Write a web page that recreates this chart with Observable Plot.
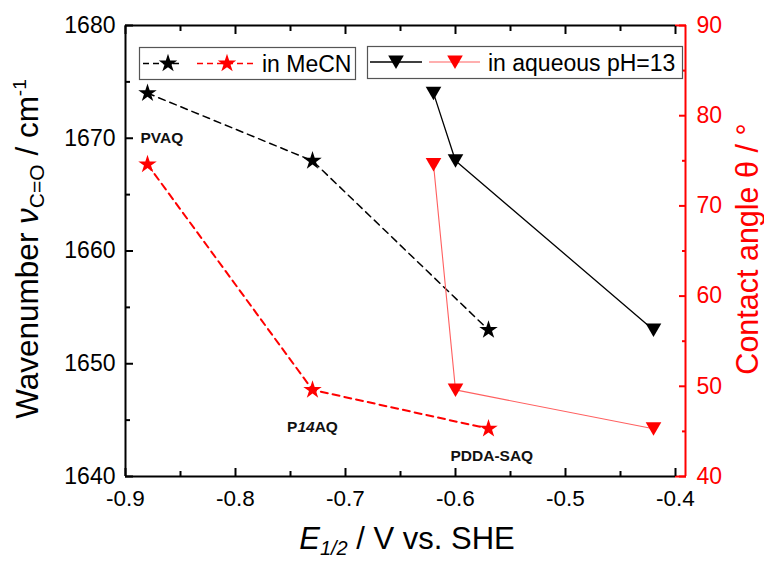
<!DOCTYPE html>
<html><head><meta charset="utf-8">
<script src="https://cdn.jsdelivr.net/npm/d3@7"></script>
<script src="https://cdn.jsdelivr.net/npm/@observablehq/plot@0.6"></script>
<style>
html,body{margin:0;padding:0;background:#fff;}
#chart{width:764px;height:561px;}
</style></head><body><div id="chart"></div>
<script>
// ---- data ----
const potMeCN = [-0.88, -0.73, -0.57];
const wnMeCN = [1674, 1668, 1653];
const caMeCN = [74.6, 49.6, 45.3];
const potAq = [-0.62, -0.60, -0.42];
const wnAq = [1674, 1668, 1653];
const caAq = [74.6, 49.6, 45.3];
const polymers = ["PVAQ", "P14AQ", "PDDA-SAQ"];
const labelPot = [-0.867, -0.73, -0.567];
const labelWn = [1670, 1644.4, 1641.8];
const xTicks = [-0.9, -0.8, -0.7, -0.6, -0.5, -0.4];
const xMinor = [-0.85, -0.75, -0.65, -0.55, -0.45];
const wnTicks = [1640, 1650, 1660, 1670, 1680];
const wnMinor = [1645, 1655, 1665, 1675];
const caTicks = [40, 50, 60, 70, 80, 90];
const caMinor = [45, 55, 65, 75, 85];

const ca2wn = d3.scaleLinear([40, 90], [1640, 1680]);
const mecn = potMeCN.map((E, i) => ({E, wn: wnMeCN[i], ca: ca2wn(caMeCN[i])}));
const aq = potAq.map((E, i) => ({E, wn: wnAq[i], ca: ca2wn(caAq[i])}));
const labels = polymers.map((t, i) => ({t, E: labelPot[i], wn: labelWn[i]}));

const FONT = "'Liberation Sans', Arial, sans-serif";
const RED = "#ff0000";
const PINK = "#ff6060";
const SR = 5.8, TR = 5.8;

const chart = Plot.plot({
  width: 764, height: 561,
  marginLeft: 125, marginRight: 89, marginTop: 25, marginBottom: 85,
  x: {domain: [-0.9, -0.4]},
  y: {domain: [1640, 1680]},
  style: {fontFamily: FONT, background: "white", overflow: "visible"},
  marks: [
    Plot.ruleX([-0.9], {stroke: "black", strokeWidth: 2}),
    Plot.ruleY([1640, 1680], {stroke: "black", strokeWidth: 2}),
    Plot.ruleX([-0.4], {stroke: RED, strokeWidth: 2, dx: 10}),
    Plot.ruleY([1640, 1680], {x1: -0.4, x2: -0.4, insetRight: -11, stroke: RED, strokeWidth: 2}),
    Plot.axisX({ticks: xTicks, anchor: "bottom", tickSize: -8, tickPadding: 22, strokeWidth: 2, fontSize: 22.5, fill: "black", tickFormat: d => d.toFixed(1), label: null}),
    Plot.axisX({ticks: xMinor, anchor: "bottom", tickSize: -5, strokeWidth: 2, tickFormat: () => "", label: null}),
    Plot.axisX({ticks: xTicks, anchor: "top", tickSize: -8, strokeWidth: 2, tickFormat: () => "", label: null}),
    Plot.axisX({ticks: xMinor, anchor: "top", tickSize: -5, strokeWidth: 2, tickFormat: () => "", label: null}),
    Plot.axisY({ticks: wnTicks, anchor: "left", tickSize: -8, tickPadding: 18, strokeWidth: 2, fontSize: 23, fill: "black", tickFormat: d => String(d), label: null}),
    Plot.axisY({ticks: wnMinor, anchor: "left", tickSize: -5, strokeWidth: 2, tickFormat: () => "", label: null}),
    Plot.axisY({ticks: caTicks.map(c => ca2wn(c)), anchor: "right", dx: 10, tickSize: -7, tickPadding: 18, strokeWidth: 2, fontSize: 23, color: RED, tickFormat: d => String(Math.round(ca2wn.invert(d))), label: null}),
    Plot.axisY({ticks: caMinor.map(c => ca2wn(c)), anchor: "right", dx: 10, tickSize: -4, strokeWidth: 2, color: RED, tickFormat: () => "", label: null}),
    // lines
    Plot.line(mecn, {x: "E", y: "wn", stroke: "black", strokeWidth: 1.5, strokeDasharray: "7,5"}),
    Plot.line(mecn, {x: "E", y: "ca", stroke: RED, strokeWidth: 2, strokeDasharray: "7,5"}),
    Plot.line(aq, {x: "E", y: "wn", stroke: "black", strokeWidth: 1.3}),
    Plot.line(aq, {x: "E", y: "ca", stroke: PINK, strokeWidth: 1.1}),
    // markers
    Plot.dot(mecn, {x: "E", y: "wn", symbol: "star", r: SR, fill: "black"}),
    Plot.dot(mecn, {x: "E", y: "ca", symbol: "star", r: SR, fill: RED}),
    Plot.dot(aq, {x: "E", y: "wn", symbol: "triangle", r: TR, rotate: 180, fill: "black", dy: -2}),
    Plot.dot(aq, {x: "E", y: "ca", symbol: "triangle", r: TR, rotate: 180, fill: RED, dy: -2}),
    // annotations
    Plot.text(labels, {x: "E", y: "wn", text: "t", fontWeight: "bold", fontSize: 15.5, fill: "#111"})
  ]
});
document.getElementById("chart").appendChild(chart);

const svg = d3.select(chart);
// italic 14 in P14AQ
svg.selectAll("text").filter(function () { return this.textContent === "P14AQ"; }).each(function () {
  const t = d3.select(this);
  t.text(null);
  t.append("tspan").text("P");
  t.append("tspan").attr("font-style", "italic").text("14");
  t.append("tspan").text("AQ");
});

// axis titles
const titles = svg.append("g").attr("font-family", FONT);
const lt = titles.append("text").attr("transform", "translate(38,249) rotate(-90)").attr("text-anchor", "middle").attr("font-size", 31.5).attr("fill", "black");
lt.append("tspan").text("Wavenumber ");
lt.append("tspan").attr("font-style", "italic").text("ν");
lt.append("tspan").attr("font-size", 21).attr("dy", 6).text("C=O");
lt.append("tspan").attr("dy", -6).text(" / cm");
lt.append("tspan").attr("font-size", 19).attr("dy", -12).text("-1");

const xt = titles.append("text").attr("x", 407).attr("y", 549).attr("text-anchor", "middle").attr("font-size", 31).attr("fill", "black");
xt.append("tspan").attr("font-style", "italic").text("E");
xt.append("tspan").attr("font-style", "italic").attr("font-size", 20).attr("dy", 6).text("1/2");
xt.append("tspan").attr("dy", -6).text(" / V vs. SHE");

titles.append("text").attr("transform", "translate(758,249) rotate(-90)").attr("text-anchor", "middle").attr("font-size", 30.5).attr("fill", RED).text("Contact angle θ / °");

// legend
const lg = svg.append("g").attr("font-family", FONT).attr("font-size", 23).attr("text-anchor", "start");
const starPath = d3.symbol(d3.symbolStar, Math.PI * SR * SR)();
const triPath = d3.symbol(d3.symbolTriangle, Math.PI * TR * TR)();
function box(x, y, w, h) {
  lg.append("rect").attr("x", x).attr("y", y).attr("width", w).attr("height", h).attr("fill", "white").attr("stroke", "#555").attr("stroke-width", 1.2);
}
function seg(x1, x2, y, color, width, dash) {
  const l = lg.append("line").attr("x1", x1).attr("x2", x2).attr("y1", y).attr("y2", y).attr("stroke", color).attr("stroke-width", width);
  if (dash) l.attr("stroke-dasharray", dash);
}
function sym(path, x, y, color, rot) {
  lg.append("path").attr("d", path).attr("fill", color).attr("transform", `translate(${x},${y})` + (rot ? " rotate(180)" : ""));
}
box(139.5, 47.5, 216, 32);
seg(143, 183, 63.5, "black", 1.5, "6,4");
sym(starPath, 168, 63.5, "black");
seg(197, 255, 63.5, RED, 1.5, "6,4");
sym(starPath, 227, 63.5, RED);
lg.append("text").attr("x", 262).attr("y", 71.5).attr("fill", "black").attr("text-anchor", "start").text("in MeCN");

box(367.5, 46.5, 315, 32);
seg(370, 422, 62, "black", 1.3);
sym(triPath, 396, 60, "black", true);
seg(429, 480, 62, PINK, 1.1);
sym(triPath, 455, 60, RED, true);
lg.append("text").attr("x", 488).attr("y", 70.5).attr("fill", "black").attr("text-anchor", "start").text("in aqueous pH=13");
</script>
</body></html>
